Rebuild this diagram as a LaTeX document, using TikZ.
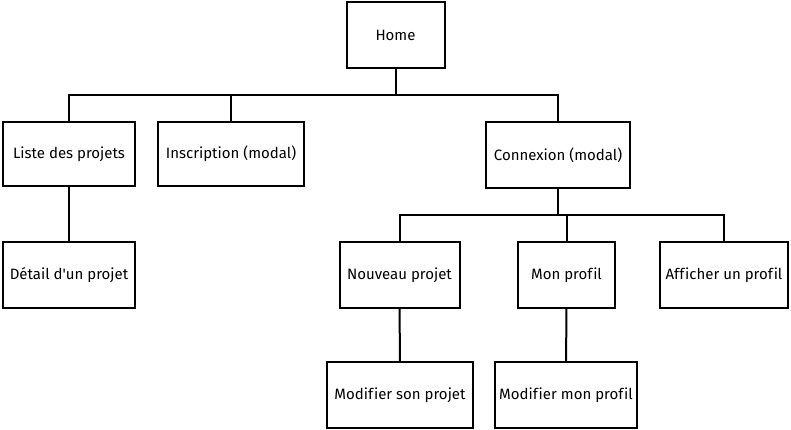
\documentclass[tikz,border=0pt]{standalone}
\usepackage{fontspec}
\setmainfont{Fira Sans}
\usepackage{tikz}
\usetikzlibrary{positioning}

\begin{document}
\begin{tikzpicture}[
        x=1pt, y=-1pt,
        every node/.style={font=\fontsize{15}{18}\selectfont, align=center},
        screen/.style={draw, line width=2pt, fill=white, inner sep=0pt, minimum height=66pt},
        link/.style={line width=2pt}
    ]
        \useasboundingbox (0,0) rectangle (791,430);
        % pages
        \node[screen, minimum width=98pt] (home) at (395.5,35) {Home};
        \node[screen, minimum width=132pt, minimum height=64pt] (liste) at (69,154) {Liste des projets};
        \node[screen, minimum width=146pt, minimum height=64pt] (inscr) at (231,154) {Inscription (modal)};
        \node[screen, minimum width=144pt] (connex) at (558,155) {Connexion (modal)};
        \node[screen, minimum width=132pt] (detail) at (69,275) {Détail d\textquotesingle un projet};
        \node[screen, minimum width=120pt] (nouveau) at (399.5,275) {Nouveau projet};
        \node[screen, minimum width=97pt] (profil) at (566.5,275) {Mon prof\/il};
        \node[screen, minimum width=128pt] (afficher) at (724,275) {Aff\/icher un prof\/il};
        \node[screen, minimum width=146pt] (modprojet) at (400,395) {Modif\/ier son projet};
        \node[screen, minimum width=142pt] (modprofil) at (566,395) {Modif\/ier mon prof\/il};
        % tree links
        \coordinate (bushome) at (395.5,95);
        \coordinate (busconnex) at (558,215);
        \draw[link] (home) -- (bushome);
        \draw[link] (liste.north) |- (bushome);
        \draw[link] (inscr.north) |- (bushome);
        \draw[link] (connex.north) |- (bushome);
        \draw[link] (connex) -- (busconnex);
        \draw[link] (nouveau.north) |- (busconnex);
        \draw[link] (profil.north) |- (busconnex);
        \draw[link] (afficher.north) |- (busconnex);
        \draw[link] (liste) -- (detail);
        \draw[link] (nouveau) -- (modprojet);
        \draw[link] (profil) -- (modprofil);
    \end{tikzpicture}
\end{document}
